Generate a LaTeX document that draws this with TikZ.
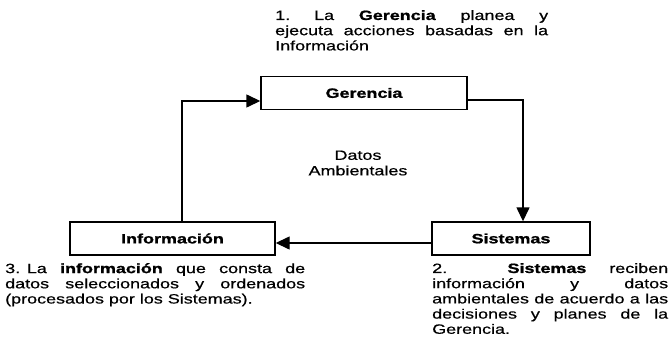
\documentclass[tikz,border=0pt]{standalone}
\usepackage{fontspec}
\setmainfont[FakeStretch=1.33, FakeBold=0.6, BoldFeatures={FakeBold=1.2}]{Liberation Sans}
\usetikzlibrary{positioning,arrows.meta}

\begin{document}
\begin{tikzpicture}[x=1pt,y=-1pt]
    \tikzstyle{block}=[rectangle, draw=black, line width=1.4pt, minimum height=33pt, font=\fontsize{13.5}{15}\selectfont\bfseries]
    \tikzstyle{connect}=[-{Triangle[length=14pt,width=13pt]}, line width=1.4pt]
    \tikzstyle{note}=[align=justify, inner sep=0pt, anchor=north west, font=\fontsize{13.5}{15.2}\selectfont]
    \useasboundingbox (0,0) rectangle (672,346);
      \node[block, minimum width=206pt] (ger) at (364,93) {Gerencia};
      \node[block, minimum width=205pt] (info) at (172.5,238.5) {Información};
      \node[block, minimum width=158pt] (sis) at (511,238.5) {Sistemas};
      \node[align=center, font=\fontsize{13.5}{15.5}\selectfont] (datos) at (358,163) {Datos\\Ambientales};
      \node[note, text width=273pt] (note1) at (275,10)
        {1.\hspace*{24pt}La \textbf{Gerencia} planea y\linebreak ejecuta acciones basadas en la\linebreak Información};
      \node[note, text width=236pt] (note2) at (432,263)
        {2. \textbf{Sistemas} reciben\linebreak información y datos\linebreak ambientales de acuerdo a las\linebreak decisiones y planes de la\linebreak Gerencia.};
      \node[note, text width=300pt] (note3) at (5,263)
        {3.\enspace La \textbf{información} que consta de\linebreak datos seleccionados y ordenados\linebreak (procesados por los Sistemas).};
      \draw[connect] ([xshift=9.5pt]info.north) |- ([yshift=-8pt]ger.west);
      \draw[connect] ([yshift=-7pt]ger.east) -| ([xshift=12pt]sis.north);
      \draw[connect] ([yshift=-4.5pt]sis.west) -- ([yshift=-4.5pt]info.east);
\end{tikzpicture}
\end{document}
